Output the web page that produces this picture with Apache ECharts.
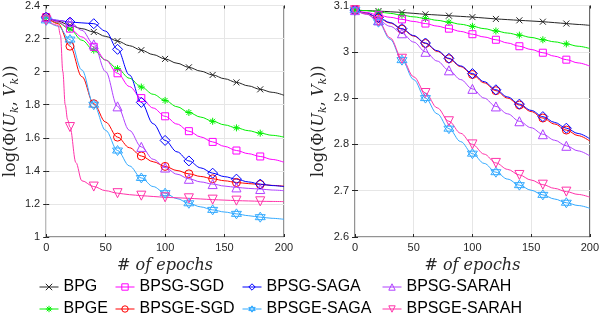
<!DOCTYPE html>
<html>
<head>
<meta charset="utf-8">
<script src="https://cdn.jsdelivr.net/npm/echarts@6/dist/echarts.min.js"></script>
<style>
  html, body { margin: 0; padding: 0; background: #fff; }
  #chart { width: 602px; height: 328px; }
</style>
</head>
<body>
<div id="chart"></div>
<script>
// epochs shared by every curve, markers drawn every 20 epochs
const epochs = [0, 10, 20, 30, 40, 50, 60, 70, 80, 90, 100, 110, 120, 130, 140, 150, 160, 170, 180, 190, 200];

// left panel
const leftBPG       = [2.33, 2.305, 2.28, 2.26, 2.24, 2.213, 2.185, 2.157, 2.13, 2.103, 2.077, 2.051, 2.026, 2.003, 1.98, 1.957, 1.935, 1.914, 1.893, 1.875, 1.857];
const leftBPGE      = [2.33, 2.295, 2.257, 2.19, 2.13, 2.07, 2.018, 1.96, 1.907, 1.863, 1.826, 1.788, 1.753, 1.725, 1.70, 1.678, 1.66, 1.643, 1.628, 1.615, 1.604];
const leftSGD       = [2.33, 2.30, 2.26, 2.21, 2.15, 2.07, 1.99, 1.91, 1.84, 1.78, 1.73, 1.683, 1.64, 1.605, 1.575, 1.548, 1.523, 1.504, 1.487, 1.469, 1.452];
const leftSGDE      = [2.33, 2.29, 2.154, 1.97, 1.806, 1.695, 1.604, 1.54, 1.49, 1.455, 1.427, 1.402, 1.382, 1.366, 1.352, 1.34, 1.33, 1.323, 1.318, 1.312, 1.307];
const leftSAGA      = [2.33, 2.31, 2.30, 2.295, 2.29, 2.245, 2.135, 1.98, 1.814, 1.685, 1.584, 1.515, 1.46, 1.418, 1.386, 1.365, 1.35, 1.333, 1.32, 1.311, 1.305];
const leftSAGAE     = [2.31, 2.275, 2.194, 2.01, 1.80, 1.645, 1.523, 1.43, 1.357, 1.305, 1.265, 1.232, 1.204, 1.182, 1.164, 1.151, 1.14, 1.129, 1.12, 1.113, 1.107];
const leftSARAH     = [2.33, 2.31, 2.30, 2.25, 2.165, 2.00, 1.79, 1.645, 1.545, 1.47, 1.42, 1.38, 1.352, 1.333, 1.32, 1.308, 1.30, 1.294, 1.29, 1.284, 1.28];
const leftSARAHE    = [2.31, 2.28, 1.665, 1.34, 1.305, 1.28, 1.265, 1.256, 1.25, 1.245, 1.24, 1.237, 1.234, 1.23, 1.226, 1.223, 1.22, 1.218, 1.216, 1.215, 1.214];
// the steep drop of BPSGE-SARAH between epochs 10 and 30
const leftSARAHEExtraX = [12, 14, 16, 18, 25];
const leftSARAHEExtraY = [2.22, 2.0, 1.80, 1.71, 1.45];

// right panel
const rightBPG      = [3.09, 3.089, 3.088, 3.0865, 3.085, 3.083, 3.081, 3.0795, 3.078, 3.0765, 3.075, 3.073, 3.071, 3.0695, 3.068, 3.0665, 3.065, 3.063, 3.061, 3.059, 3.057];
const rightBPGE     = [3.09, 3.089, 3.086, 3.083, 3.079, 3.0755, 3.072, 3.068, 3.064, 3.0595, 3.055, 3.05, 3.045, 3.0405, 3.036, 3.031, 3.026, 3.0215, 3.017, 3.012, 3.007];
const rightSGD      = [3.09, 3.085, 3.079, 3.0745, 3.07, 3.0655, 3.061, 3.0555, 3.05, 3.044, 3.038, 3.032, 3.026, 3.019, 3.012, 3.005, 2.998, 2.9905, 2.983, 2.976, 2.969];
const rightSGDE     = [3.09, 3.083, 3.073, 3.062, 3.049, 3.034, 3.018, 3.001, 2.985, 2.968, 2.951, 2.933, 2.916, 2.9, 2.885, 2.871, 2.857, 2.844, 2.831, 2.819, 2.807];
const rightSAGA     = [3.09, 3.083, 3.074, 3.063, 3.05, 3.035, 3.019, 3.0025, 2.986, 2.9695, 2.953, 2.9355, 2.918, 2.9025, 2.887, 2.8735, 2.86, 2.8475, 2.835, 2.8235, 2.812];
const rightSAGAE    = [3.09, 3.082, 3.064, 3.027, 2.982, 2.94, 2.90, 2.866, 2.834, 2.806, 2.78, 2.759, 2.74, 2.725, 2.712, 2.701, 2.691, 2.682, 2.674, 2.668, 2.662];
const rightSARAH    = [3.09, 3.081, 3.068, 3.055, 3.04, 3.021, 3.0, 2.98, 2.96, 2.94, 2.92, 2.90, 2.882, 2.866, 2.85, 2.836, 2.822, 2.809, 2.797, 2.786, 2.775];
const rightSARAHE   = [3.09, 3.082, 3.066, 3.03, 2.985, 2.946, 2.911, 2.879, 2.85, 2.824, 2.80, 2.779, 2.76, 2.746, 2.734, 2.723, 2.713, 2.705, 2.698, 2.692, 2.686];

const legendColumns = [
  ['BPG', 'BPGE'],
  ['BPSG-SGD', 'BPSGE-SGD'],
  ['BPSG-SAGA', 'BPSGE-SAGA'],
  ['BPSG-SARAH', 'BPSGE-SARAH']
];

const xMark = 'path://M0,0L10,10M10,0L0,10';
const starMark = 'path://M5,0L5,10M0,5L10,5M1.5,1.5L8.5,8.5M8.5,1.5L1.5,8.5';
const hexMark = 'path://M5,0L9.33,7.5L0.67,7.5ZM5,10L0.67,2.5L9.33,2.5Z';
const hollow = 'rgba(255,255,255,0)';
const axisColor = '#262626';

const look = {
  'BPG':         { color: '#262626', symbol: xMark, size: 6 },
  'BPGE':        { color: '#00f000', symbol: starMark, size: 7 },
  'BPSG-SGD':    { color: '#ff00ff', symbol: 'rect', size: 7 },
  'BPSGE-SGD':   { color: '#ff0000', symbol: 'circle', size: 8 },
  'BPSG-SAGA':   { color: '#0000ff', symbol: 'diamond', size: 10 },
  'BPSGE-SAGA':  { color: '#33aaff', symbol: hexMark, size: 10 },
  'BPSG-SARAH':  { color: '#b040ff', symbol: 'triangle', size: 9 },
  'BPSGE-SARAH': { color: '#ff33aa', symbol: 'triangle', size: 9, rotate: 180 }
};

function points(vals, extraX, extraY) {
  const pts = epochs.map((e, i) => [e, vals[i]]);
  if (extraX) extraX.forEach((e, i) => pts.push([e, extraY[i]]));
  pts.sort((a, b) => a[0] - b[0]);
  return pts.map(p => (p[0] % 20 === 0 && p[0] < 200)
    ? { value: p }
    : { value: p, symbol: 'none' });
}

function line(name, idx, data) {
  const l = look[name];
  return {
    name: name,
    type: 'line',
    xAxisIndex: idx,
    yAxisIndex: idx,
    data: data,
    smooth: 0.35,
    smoothMonotone: 'x',
    symbol: l.symbol,
    symbolSize: l.size,
    symbolRotate: l.rotate || 0,
    showAllSymbol: true,
    lineStyle: { color: l.color, width: 1 },
    itemStyle: { color: hollow, borderColor: l.color, borderWidth: 1 },
    emphasis: { disabled: true },
    animation: false,
    z: 2
  };
}

const tickFont = { fontSize: 11, color: axisColor, fontFamily: 'Liberation Sans' };
const yName = 'log(Φ({it|U}{sub|k}, {it|V}{sub|k}))';
const yNameStyle = {
  fontFamily: 'DejaVu Serif', fontSize: 16, color: axisColor, lineHeight: 20,
  rich: {
    it: { fontFamily: 'DejaVu Serif', fontStyle: 'italic', fontSize: 16, color: axisColor, lineHeight: 20 },
    sub: { fontFamily: 'DejaVu Serif', fontStyle: 'italic', fontSize: 11, color: axisColor, lineHeight: 12, verticalAlign: 'bottom' }
  }
};
const innerTick = { show: true, inside: true, length: 3, lineStyle: { color: axisColor } };

function xAxis(idx) {
  return {
    type: 'value', gridIndex: idx, min: 0, max: 200, interval: 50,
    axisLine: { show: false },
    axisTick: innerTick,
    axisLabel: Object.assign({ margin: 5 }, tickFont),
    splitLine: { lineStyle: { color: '#e6e6e6', width: 1 } },
    name: '# of epochs', nameLocation: 'middle', nameGap: 13,
    nameTextStyle: { fontFamily: 'DejaVu Serif', fontStyle: 'italic', fontSize: 16, color: axisColor }
  };
}

function yAxis(idx, min, max, step, gap) {
  return {
    type: 'value', gridIndex: idx, min: min, max: max, interval: step,
    axisLine: { show: false },
    axisTick: innerTick,
    axisLabel: Object.assign({ margin: 6 }, tickFont),
    splitLine: { lineStyle: { color: '#e6e6e6', width: 1 } },
    name: yName, nameLocation: 'middle', nameGap: gap, nameRotate: 90,
    nameTextStyle: yNameStyle
  };
}

// box ticks on the top and right edges
function mirror(axis, pos) {
  return {
    type: 'value', gridIndex: axis.gridIndex, min: axis.min, max: axis.max, interval: axis.interval,
    position: pos, axisLine: { show: false }, axisTick: innerTick,
    axisLabel: { show: false }, splitLine: { show: false }
  };
}

const xs = [xAxis(0), xAxis(1)];
const ys = [yAxis(0, 1, 2.4, 0.2, 20), yAxis(1, 2.6, 3.1, 0.1, 26)];

const legendLeft = [39, 115, 242, 382];

const option = {
  backgroundColor: '#fff',
  animation: false,
  grid: [
    { left: 46, top: 5, width: 238, height: 232, show: true, borderColor: axisColor, borderWidth: 1, backgroundColor: '#fff' },
    { left: 355, top: 5, width: 237, height: 232, show: true, borderColor: axisColor, borderWidth: 1, backgroundColor: '#fff' }
  ],
  xAxis: xs.concat([mirror(xs[0], 'top'), mirror(xs[1], 'top')]),
  yAxis: ys.concat([mirror(ys[0], 'right'), mirror(ys[1], 'right')]),
  legend: legendColumns.map((col, i) => ({
    data: col.map(n => ({
      name: n,
      itemStyle: { color: hollow, borderColor: look[n].color, borderWidth: 1 },
      lineStyle: { color: look[n].color, width: 1 }
    })),
    orient: 'vertical',
    left: legendLeft[i],
    top: 279,
    padding: 0,
    itemWidth: 19,
    itemHeight: 8,
    itemGap: 6,
    selectedMode: false,
    textStyle: { fontFamily: 'Liberation Sans', fontSize: 16, color: '#000', lineHeight: 16 }
  })),
  series: [
    line('BPG', 0, points(leftBPG)),
    line('BPGE', 0, points(leftBPGE)),
    line('BPSG-SGD', 0, points(leftSGD)),
    line('BPSGE-SGD', 0, points(leftSGDE)),
    line('BPSG-SAGA', 0, points(leftSAGA)),
    line('BPSGE-SAGA', 0, points(leftSAGAE)),
    line('BPSG-SARAH', 0, points(leftSARAH)),
    line('BPSGE-SARAH', 0, points(leftSARAHE, leftSARAHEExtraX, leftSARAHEExtraY)),
    line('BPG', 1, points(rightBPG)),
    line('BPGE', 1, points(rightBPGE)),
    line('BPSG-SGD', 1, points(rightSGD)),
    line('BPSGE-SGD', 1, points(rightSGDE)),
    line('BPSG-SAGA', 1, points(rightSAGA)),
    line('BPSGE-SAGA', 1, points(rightSAGAE)),
    line('BPSG-SARAH', 1, points(rightSARAH)),
    line('BPSGE-SARAH', 1, points(rightSARAHE))
  ]
};

const myChart = echarts.init(document.getElementById('chart'), null, { renderer: 'canvas' });
myChart.setOption(option);
</script>
</body>
</html>
